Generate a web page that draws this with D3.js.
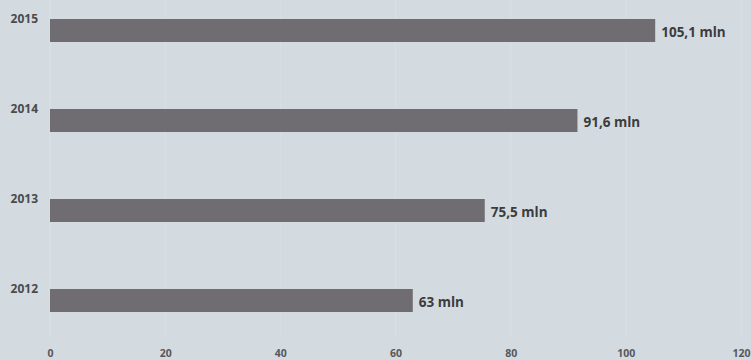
<!DOCTYPE html>
<html><head><meta charset="utf-8">
<script src="https://cdn.jsdelivr.net/npm/d3@7"></script>
<style>html,body{margin:0;padding:0;background:#d3dbe1;}svg{display:block;font-family:"Open Sans",sans-serif;}</style>
</head><body><svg id="c" width="751" height="360"></svg>
<script>
const years = ["2015","2014","2013","2012"];
const values = [105.1, 91.6, 75.5, 63];
const valueLabels = ["105,1 mln","91,6 mln","75,5 mln","63 mln"];
const ticks = [0,20,40,60,80,100,120];

const svg = d3.select("#c");
svg.append("rect").attr("width",751).attr("height",360).attr("fill","#d3dbe1");
const x = d3.scaleLinear().domain([0,120]).range([50,741]);
const y = d3.scaleBand().domain(years).range([0,360]).paddingInner(0).paddingOuter(0);
svg.append("g").selectAll("line").data(ticks).join("line")
  .attr("x1",d=>x(d)).attr("x2",d=>x(d)).attr("y1",0).attr("y2",336)
  .attr("stroke","#d9e0e5").attr("stroke-width",1);
const axis = d3.axisBottom(x).tickValues(ticks).tickSize(0).tickPadding(0).tickFormat(d3.format("d"));
const ag = svg.append("g").attr("transform","translate(0,350)").call(axis);
ag.select(".domain").remove();
ag.selectAll("text").attr("fill","#58585a").attr("font-size","10.5px").attr("font-weight","bold").attr("font-family","'Open Sans',sans-serif");
const bh = 23;
svg.append("g").selectAll("rect").data(values).join("rect")
  .attr("x",x(0)).attr("y",(d,i)=>y(years[i])+19).attr("width",d=>x(d)-x(0)).attr("height",bh)
  .attr("fill","#6f6d71");
svg.append("g").selectAll("text").data(values).join("text")
  .attr("x",d=>x(d)+6).attr("y",(d,i)=>y(years[i])+19+bh/2+2).attr("dy","0.35em")
  .attr("font-size","13.5px").attr("font-weight","bold").attr("fill","#3c3c3e")
  .text((d,i)=>valueLabels[i]);
svg.append("g").selectAll("text").data(years).join("text")
  .attr("x",38).attr("y",d=>y(d)+19).attr("dy","0.35em").attr("text-anchor","end")
  .attr("font-size","12px").attr("font-weight","bold").attr("fill","#4a4a4c")
  .text(d=>d);
</script></body></html>
